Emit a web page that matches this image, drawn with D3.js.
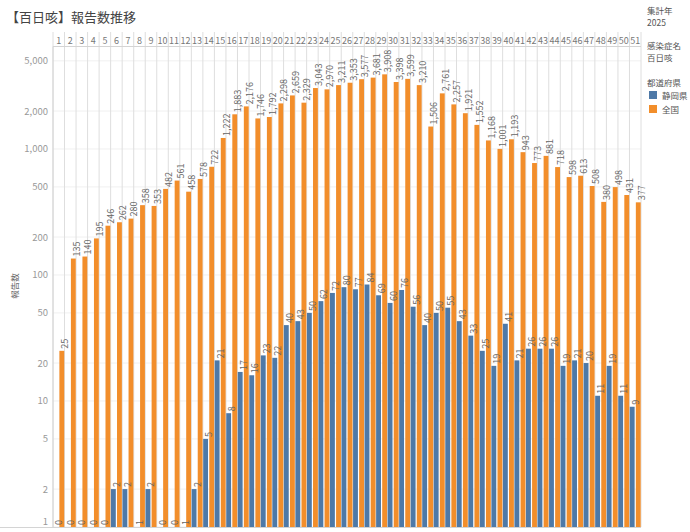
<!DOCTYPE html>
<html>
<head>
<meta charset="utf-8">
<title>百日咳 報告数推移</title>
<script src="https://cdn.jsdelivr.net/npm/d3@7"></script>
<style>
body {
    margin: 0;
    background: white;
}

svg text {
    font-family: "Noto Sans CJK JP", "Noto Sans", sans-serif;
}

.title {
    font-size: 13px;
    fill: #444;
}

.week {
    font-size: 9px;
    fill: #777;
    text-anchor: middle;
}

.tick {
    font-size: 9.5px;
    fill: #999;
    text-anchor: end;
}

.value {
    font-size: 9px;
    fill: #666;
}

.legend text {
    font-size: 8.5px;
    fill: #555;
}
</style>
</head>
<body>
<svg id='chart' width='690' height='532'></svg>

<script>
// 週 (1..51)
const weeks = d3.range(1, 52);

const series = ['静岡県', '全国'];

const shizuoka = [0, 0, 0, 0, 0, 2, 2, 1, 2, 0, 0, 1, 2, 5, 21, 8, 17, 16, 23, 22,
    40, 43, 50, 62, 72, 80, 77, 84, 69, 60, 76, 56, 40, 50, 55, 43, 33, 25, 19, 41,
    21, 26, 26, 26, 19, 21, 20, 11, 19, 11, 9];

const zenkoku = [25, 135, 140, 195, 246, 262, 280, 358, 353, 482, 561, 458, 578, 722,
    1222, 1883, 2176, 1746, 1792, 2298, 2659, 2329, 3043, 2970, 3211, 3353, 3577,
    3681, 3908, 3398, 3599, 3210, 1506, 2761, 2257, 1921, 1552, 1168, 1001, 1193,
    943, 773, 881, 718, 598, 613, 508, 380, 498, 431, 377];

const yTicks = [1, 2, 5, 10, 20, 50, 100, 200, 500, 1000, 2000, 5000];

const colors = {'静岡県': '#4e79a7', '全国': '#f28e2b'};

const plotLeft = 53, plotRight = 641, plotTop = 46.5, plotBottom = 527, headerTop = 32;

const svg = d3.select('#chart');

svg.append('text')
    .attr('class', 'title')
    .attr('x', 6)
    .attr('y', 22)
    .text('【百日咳】報告数推移');

const x = d3.scaleBand().domain(weeks).range([plotLeft, plotRight]);
const xs = d3.scaleBand().domain(series).range([0, x.bandwidth()])
    .paddingInner(0.2).paddingOuter(0.05);
const y = d3.scaleLog().domain([1, 6500]).range([plotBottom, plotTop]);

// horizontal grid
svg.append('g')
    .selectAll('line')
    .data(yTicks)
    .join('line')
        .attr('x1', plotLeft)
        .attr('x2', plotRight)
        .attr('y1', d => y(d))
        .attr('y2', d => y(d))
        .attr('stroke', '#f0f0f0');

// column lines
svg.append('g')
    .selectAll('line')
    .data(weeks.concat([null]))
    .join('line')
        .attr('x1', (d, i) => plotLeft + i * x.step())
        .attr('x2', (d, i) => plotLeft + i * x.step())
        .attr('y1', headerTop)
        .attr('y2', plotBottom)
        .attr('stroke', '#dedede');

svg.append('line')
    .attr('x1', plotLeft).attr('x2', plotRight)
    .attr('y1', plotTop).attr('y2', plotTop)
    .attr('stroke', '#d4d4d4');

svg.append('line')
    .attr('x1', 0).attr('x2', plotRight)
    .attr('y1', plotBottom + 0.5).attr('y2', plotBottom + 0.5)
    .attr('stroke', '#d4d4d4');

svg.append('line')
    .attr('x1', plotLeft).attr('x2', plotLeft)
    .attr('y1', plotTop).attr('y2', plotBottom)
    .attr('stroke', '#d4d4d4');

// week header
svg.append('g')
    .selectAll('text')
    .data(weeks)
    .join('text')
        .attr('class', 'week')
        .attr('x', d => x(d) + x.bandwidth() / 2)
        .attr('y', 43.5)
        .text(d => d);

// y axis labels
svg.append('g')
    .selectAll('text')
    .data(yTicks)
    .join('text')
        .attr('class', 'tick')
        .attr('x', 48)
        .attr('y', d => Math.min(y(d), plotBottom - 6) + 3.5)
        .text(d3.format(','));

svg.append('text')
    .attr('transform', 'translate(18,286) rotate(-90)')
    .style('text-anchor', 'middle')
    .style('font-size', '8.5px')
    .style('fill', '#666')
    .text('報告数');

const rows = [];
weeks.forEach((w, i) => {
    rows.push({week: w, key: '静岡県', value: shizuoka[i]});
    rows.push({week: w, key: '全国', value: zenkoku[i]});
});

const ypos = v => y(Math.max(v, 1));

svg.append('g')
    .selectAll('rect')
    .data(rows)
    .join('rect')
        .attr('x', d => x(d.week) + xs(d.key))
        .attr('width', xs.bandwidth())
        .attr('y', d => ypos(d.value))
        .attr('height', d => plotBottom - ypos(d.value))
        .attr('fill', d => colors[d.key]);

svg.append('g')
    .selectAll('text')
    .data(rows)
    .join('text')
        .attr('class', 'value')
        .attr('transform', d => {
            const cx = x(d.week) + xs(d.key) + xs.bandwidth() / 2 + 6.5;
            const cy = Math.min(ypos(d.value) - 2, plotBottom - 2);
            return `translate(${cx},${cy}) rotate(-90)`;
        })
        .text(d => d3.format(',')(d.value));

// legend
const legend = svg.append('g').attr('class', 'legend');
const lx = 647;

legend.append('text').attr('x', lx).attr('y', 13.5).text('集計年');
legend.append('text').attr('x', lx).attr('y', 26).text('2025');
legend.append('text').attr('x', lx).attr('y', 48.5).text('感染症名');
legend.append('text').attr('x', lx).attr('y', 61.2).text('百日咳');
legend.append('text').attr('x', lx).attr('y', 85.5).text('都道府県');

legend.selectAll('rect.sw')
    .data(series)
    .join('rect')
        .attr('class', 'sw')
        .attr('x', 649)
        .attr('y', (d, i) => 91 + i * 14)
        .attr('width', 8)
        .attr('height', 8)
        .attr('fill', d => colors[d]);

legend.selectAll('text.lab')
    .data(series)
    .join('text')
        .attr('class', 'lab')
        .attr('x', 662)
        .attr('y', (d, i) => 98.5 + i * 14)
        .text(d => d);
</script>
</body>
</html>
